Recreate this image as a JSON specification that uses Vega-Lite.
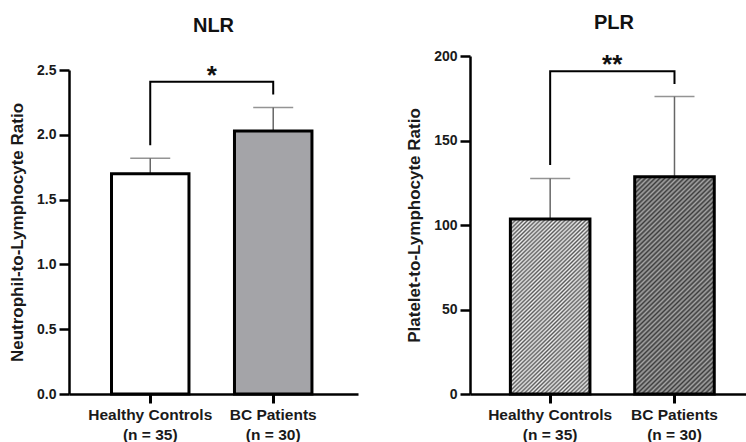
{
  "$schema": "https://vega.github.io/schema/vega-lite/v6.json",
  "padding": {"left": 8, "top": 13, "right": 0, "bottom": 0},
  "background": "white",
  "spacing": 47,
  "datasets": {
    "nlr": [
      {"group": "Healthy Controls|(n = 35)", "mean": 1.70, "upper": 1.82},
      {"group": "BC Patients|(n = 30)", "mean": 2.03, "upper": 2.21}
    ],
    "nlr_br": [
      {"group": "Healthy Controls|(n = 35)", "v": 1.92, "o": 1},
      {"group": "Healthy Controls|(n = 35)", "v": 2.41, "o": 2},
      {"group": "BC Patients|(n = 30)", "v": 2.41, "o": 3},
      {"group": "BC Patients|(n = 30)", "v": 2.31, "o": 4}
    ],
    "nlr_sig": [
      {"group": "Healthy Controls|(n = 35)", "top": 2.41, "sig": "*"}
    ],
    "plr": [
      {"group": "Healthy Controls|(n = 35)", "mean": 103.5, "upper": 127.5},
      {"group": "BC Patients|(n = 30)", "mean": 128.5, "upper": 176}
    ],
    "plr_br": [
      {"group": "Healthy Controls|(n = 35)", "v": 135.5, "o": 1},
      {"group": "Healthy Controls|(n = 35)", "v": 191, "o": 2},
      {"group": "BC Patients|(n = 30)", "v": 191, "o": 3},
      {"group": "BC Patients|(n = 30)", "v": 183.5, "o": 4}
    ],
    "plr_sig": [
      {"group": "Healthy Controls|(n = 35)", "top": 191, "sig": "**"}
    ]
  },
  "hconcat": [
    {
      "width": 289,
      "height": 338,
      "title": {"text": "NLR", "frame": "group", "offset": 20},
      "encoding": {
        "x": {
          "field": "group", "type": "nominal", "sort": null,
          "scale": {"domain": ["Healthy Controls|(n = 35)", "BC Patients|(n = 30)"], "paddingInner": 0.37, "paddingOuter": 0.36, "align": 0.48},
          "axis": {"title": null, "labelExpr": "split(datum.label, '|')"}
        }
      },
      "layer": [
        {
          "data": {"name": "nlr"},
          "mark": {"type": "rule", "color": "#666", "strokeWidth": 1.5},
          "encoding": {
            "y": {"field": "mean", "type": "quantitative", "title": "Neutrophil-to-Lymphocyte Ratio",
                  "scale": {"domain": [0, 2.5], "nice": false, "range": [338, 14]},
                  "axis": {"values": [0, 0.5, 1, 1.5, 2, 2.5], "format": ".1f"}},
            "y2": {"field": "upper"}
          }
        },
        {
          "data": {"name": "nlr"},
          "mark": {"type": "tick", "color": "#666", "thickness": 1.5, "size": 40},
          "encoding": {
            "y": {"field": "upper", "type": "quantitative", "title": "Neutrophil-to-Lymphocyte Ratio", "scale": {"domain": [0, 2.5], "nice": false, "range": [338, 14]}}
          }
        },
        {
          "data": {"name": "nlr"},
          "mark": {"type": "bar", "stroke": "#000", "strokeWidth": 3},
          "encoding": {
            "y": {"field": "mean", "type": "quantitative", "title": "Neutrophil-to-Lymphocyte Ratio", "scale": {"domain": [0, 2.5], "nice": false, "range": [338, 14]}},
            "fill": {"field": "group", "type": "nominal", "scale": {"domain": ["Healthy Controls|(n = 35)", "BC Patients|(n = 30)"], "range": ["#ffffff", "#a4a4a8"]}, "legend": null}
          }
        },
        {
          "data": {"name": "nlr_br"},
          "mark": {"type": "line", "color": "#000", "strokeWidth": 2, "strokeJoin": "miter"},
          "encoding": {
            "y": {"field": "v", "type": "quantitative", "title": "Neutrophil-to-Lymphocyte Ratio", "scale": {"domain": [0, 2.5], "nice": false, "range": [338, 14]}},
            "order": {"field": "o", "type": "quantitative"}
          }
        },
        {
          "data": {"name": "nlr_sig"},
          "mark": {"type": "text", "dx": 61.5, "dy": 2, "align": "center", "baseline": "alphabetic", "fontSize": 26, "fontWeight": "bold", "color": "#111"},
          "encoding": {
            "y": {"field": "top", "type": "quantitative", "title": "Neutrophil-to-Lymphocyte Ratio", "scale": {"domain": [0, 2.5], "nice": false, "range": [338, 14]}},
            "text": {"field": "sig"}
          }
        }
      ]
    },
    {
      "width": 276,
      "height": 338,
      "title": {"text": "PLR", "frame": "group", "offset": 16, "dx": 6},
      "encoding": {
        "x": {
          "field": "group", "type": "nominal", "sort": null,
          "scale": {"domain": ["Healthy Controls|(n = 35)", "BC Patients|(n = 30)"], "paddingInner": 0.36, "paddingOuter": 0.29, "align": 0.56},
          "axis": {"title": null, "labelExpr": "split(datum.label, '|')"}
        }
      },
      "layer": [
        {
          "data": {"name": "plr"},
          "mark": {"type": "rule", "color": "#666", "strokeWidth": 1.5},
          "encoding": {
            "y": {"field": "mean", "type": "quantitative", "title": "Platelet-to-Lymphocyte Ratio",
                  "scale": {"domain": [0, 200], "nice": false},
                  "axis": {"values": [0, 50, 100, 150, 200]}},
            "y2": {"field": "upper"}
          }
        },
        {
          "data": {"name": "plr"},
          "mark": {"type": "tick", "color": "#666", "thickness": 1.5, "size": 40},
          "encoding": {
            "y": {"field": "upper", "type": "quantitative", "title": "Platelet-to-Lymphocyte Ratio", "scale": {"domain": [0, 200], "nice": false}}
          }
        },
        {
          "data": {"name": "plr"},
          "transform": [{"filter": "datum.group == 'Healthy Controls|(n = 35)'"}],
          "mark": {"type": "bar", "stroke": "#000", "strokeWidth": 3,
            "fill": {"gradient": "linear", "x1": 0, "y1": 0, "x2": 0.5345, "y2": 1.206, "stops": [
              {"offset": 0, "color": "#eee"}, {"offset": 0.008, "color": "#5a5a5a"}, {"offset": 0.016, "color": "#eee"}, {"offset": 0.024, "color": "#5a5a5a"}, {"offset": 0.032, "color": "#eee"}, {"offset": 0.04, "color": "#5a5a5a"}, {"offset": 0.048, "color": "#eee"}, {"offset": 0.056, "color": "#5a5a5a"}, {"offset": 0.064, "color": "#eee"}, {"offset": 0.072, "color": "#5a5a5a"},
              {"offset": 0.08, "color": "#eee"}, {"offset": 0.088, "color": "#5a5a5a"}, {"offset": 0.096, "color": "#eee"}, {"offset": 0.104, "color": "#5a5a5a"}, {"offset": 0.112, "color": "#eee"}, {"offset": 0.12, "color": "#5a5a5a"}, {"offset": 0.128, "color": "#eee"}, {"offset": 0.136, "color": "#5a5a5a"}, {"offset": 0.144, "color": "#eee"}, {"offset": 0.152, "color": "#5a5a5a"},
              {"offset": 0.16, "color": "#eee"}, {"offset": 0.168, "color": "#5a5a5a"}, {"offset": 0.176, "color": "#eee"}, {"offset": 0.184, "color": "#5a5a5a"}, {"offset": 0.192, "color": "#eee"}, {"offset": 0.2, "color": "#5a5a5a"}, {"offset": 0.208, "color": "#eee"}, {"offset": 0.216, "color": "#5a5a5a"}, {"offset": 0.224, "color": "#eee"}, {"offset": 0.232, "color": "#5a5a5a"},
              {"offset": 0.24, "color": "#eee"}, {"offset": 0.248, "color": "#5a5a5a"}, {"offset": 0.256, "color": "#eee"}, {"offset": 0.264, "color": "#5a5a5a"}, {"offset": 0.272, "color": "#eee"}, {"offset": 0.28, "color": "#5a5a5a"}, {"offset": 0.288, "color": "#eee"}, {"offset": 0.296, "color": "#5a5a5a"}, {"offset": 0.304, "color": "#eee"}, {"offset": 0.312, "color": "#5a5a5a"},
              {"offset": 0.32, "color": "#eee"}, {"offset": 0.328, "color": "#5a5a5a"}, {"offset": 0.336, "color": "#eee"}, {"offset": 0.344, "color": "#5a5a5a"}, {"offset": 0.352, "color": "#eee"}, {"offset": 0.36, "color": "#5a5a5a"}, {"offset": 0.368, "color": "#eee"}, {"offset": 0.376, "color": "#5a5a5a"}, {"offset": 0.384, "color": "#eee"}, {"offset": 0.392, "color": "#5a5a5a"},
              {"offset": 0.4, "color": "#eee"}, {"offset": 0.408, "color": "#5a5a5a"}, {"offset": 0.416, "color": "#eee"}, {"offset": 0.424, "color": "#5a5a5a"}, {"offset": 0.432, "color": "#eee"}, {"offset": 0.44, "color": "#5a5a5a"}, {"offset": 0.448, "color": "#eee"}, {"offset": 0.456, "color": "#5a5a5a"}, {"offset": 0.464, "color": "#eee"}, {"offset": 0.472, "color": "#5a5a5a"},
              {"offset": 0.48, "color": "#eee"}, {"offset": 0.488, "color": "#5a5a5a"}, {"offset": 0.496, "color": "#eee"}, {"offset": 0.504, "color": "#5a5a5a"}, {"offset": 0.512, "color": "#eee"}, {"offset": 0.52, "color": "#5a5a5a"}, {"offset": 0.528, "color": "#eee"}, {"offset": 0.536, "color": "#5a5a5a"}, {"offset": 0.544, "color": "#eee"}, {"offset": 0.552, "color": "#5a5a5a"},
              {"offset": 0.56, "color": "#eee"}, {"offset": 0.568, "color": "#5a5a5a"}, {"offset": 0.576, "color": "#eee"}, {"offset": 0.584, "color": "#5a5a5a"}, {"offset": 0.592, "color": "#eee"}, {"offset": 0.6, "color": "#5a5a5a"}, {"offset": 0.608, "color": "#eee"}, {"offset": 0.616, "color": "#5a5a5a"}, {"offset": 0.624, "color": "#eee"}, {"offset": 0.632, "color": "#5a5a5a"},
              {"offset": 0.64, "color": "#eee"}, {"offset": 0.648, "color": "#5a5a5a"}, {"offset": 0.656, "color": "#eee"}, {"offset": 0.664, "color": "#5a5a5a"}, {"offset": 0.672, "color": "#eee"}, {"offset": 0.68, "color": "#5a5a5a"}, {"offset": 0.688, "color": "#eee"}, {"offset": 0.696, "color": "#5a5a5a"}, {"offset": 0.704, "color": "#eee"}, {"offset": 0.712, "color": "#5a5a5a"},
              {"offset": 0.72, "color": "#eee"}, {"offset": 0.728, "color": "#5a5a5a"}, {"offset": 0.736, "color": "#eee"}, {"offset": 0.744, "color": "#5a5a5a"}, {"offset": 0.752, "color": "#eee"}, {"offset": 0.76, "color": "#5a5a5a"}, {"offset": 0.768, "color": "#eee"}, {"offset": 0.776, "color": "#5a5a5a"}, {"offset": 0.784, "color": "#eee"}, {"offset": 0.792, "color": "#5a5a5a"},
              {"offset": 0.8, "color": "#eee"}, {"offset": 0.808, "color": "#5a5a5a"}, {"offset": 0.816, "color": "#eee"}, {"offset": 0.824, "color": "#5a5a5a"}, {"offset": 0.832, "color": "#eee"}, {"offset": 0.84, "color": "#5a5a5a"}, {"offset": 0.848, "color": "#eee"}, {"offset": 0.856, "color": "#5a5a5a"}, {"offset": 0.864, "color": "#eee"}, {"offset": 0.872, "color": "#5a5a5a"},
              {"offset": 0.88, "color": "#eee"}, {"offset": 0.888, "color": "#5a5a5a"}, {"offset": 0.896, "color": "#eee"}, {"offset": 0.904, "color": "#5a5a5a"}, {"offset": 0.912, "color": "#eee"}, {"offset": 0.92, "color": "#5a5a5a"}, {"offset": 0.928, "color": "#eee"}, {"offset": 0.936, "color": "#5a5a5a"}, {"offset": 0.944, "color": "#eee"}, {"offset": 0.952, "color": "#5a5a5a"},
              {"offset": 0.96, "color": "#eee"}, {"offset": 0.968, "color": "#5a5a5a"}, {"offset": 0.976, "color": "#eee"}, {"offset": 0.984, "color": "#5a5a5a"}, {"offset": 0.992, "color": "#eee"}, {"offset": 1, "color": "#5a5a5a"}
            ]}
          },
          "encoding": {
            "y": {"field": "mean", "type": "quantitative", "title": "Platelet-to-Lymphocyte Ratio", "scale": {"domain": [0, 200], "nice": false}}
          }
        },
        {
          "data": {"name": "plr"},
          "transform": [{"filter": "datum.group == 'BC Patients|(n = 30)'"}],
          "mark": {"type": "bar", "stroke": "#000", "strokeWidth": 3,
            "fill": {"gradient": "linear", "x1": 0, "y1": 0, "x2": 0.4294, "y2": 1.2036, "stops": [
              {"offset": 0, "color": "#a6a6a6"}, {"offset": 0.008, "color": "#3c3c3c"}, {"offset": 0.016, "color": "#a6a6a6"}, {"offset": 0.024, "color": "#3c3c3c"}, {"offset": 0.032, "color": "#a6a6a6"}, {"offset": 0.04, "color": "#3c3c3c"}, {"offset": 0.048, "color": "#a6a6a6"}, {"offset": 0.056, "color": "#3c3c3c"}, {"offset": 0.064, "color": "#a6a6a6"}, {"offset": 0.072, "color": "#3c3c3c"},
              {"offset": 0.08, "color": "#a6a6a6"}, {"offset": 0.088, "color": "#3c3c3c"}, {"offset": 0.096, "color": "#a6a6a6"}, {"offset": 0.104, "color": "#3c3c3c"}, {"offset": 0.112, "color": "#a6a6a6"}, {"offset": 0.12, "color": "#3c3c3c"}, {"offset": 0.128, "color": "#a6a6a6"}, {"offset": 0.136, "color": "#3c3c3c"}, {"offset": 0.144, "color": "#a6a6a6"}, {"offset": 0.152, "color": "#3c3c3c"},
              {"offset": 0.16, "color": "#a6a6a6"}, {"offset": 0.168, "color": "#3c3c3c"}, {"offset": 0.176, "color": "#a6a6a6"}, {"offset": 0.184, "color": "#3c3c3c"}, {"offset": 0.192, "color": "#a6a6a6"}, {"offset": 0.2, "color": "#3c3c3c"}, {"offset": 0.208, "color": "#a6a6a6"}, {"offset": 0.216, "color": "#3c3c3c"}, {"offset": 0.224, "color": "#a6a6a6"}, {"offset": 0.232, "color": "#3c3c3c"},
              {"offset": 0.24, "color": "#a6a6a6"}, {"offset": 0.248, "color": "#3c3c3c"}, {"offset": 0.256, "color": "#a6a6a6"}, {"offset": 0.264, "color": "#3c3c3c"}, {"offset": 0.272, "color": "#a6a6a6"}, {"offset": 0.28, "color": "#3c3c3c"}, {"offset": 0.288, "color": "#a6a6a6"}, {"offset": 0.296, "color": "#3c3c3c"}, {"offset": 0.304, "color": "#a6a6a6"}, {"offset": 0.312, "color": "#3c3c3c"},
              {"offset": 0.32, "color": "#a6a6a6"}, {"offset": 0.328, "color": "#3c3c3c"}, {"offset": 0.336, "color": "#a6a6a6"}, {"offset": 0.344, "color": "#3c3c3c"}, {"offset": 0.352, "color": "#a6a6a6"}, {"offset": 0.36, "color": "#3c3c3c"}, {"offset": 0.368, "color": "#a6a6a6"}, {"offset": 0.376, "color": "#3c3c3c"}, {"offset": 0.384, "color": "#a6a6a6"}, {"offset": 0.392, "color": "#3c3c3c"},
              {"offset": 0.4, "color": "#a6a6a6"}, {"offset": 0.408, "color": "#3c3c3c"}, {"offset": 0.416, "color": "#a6a6a6"}, {"offset": 0.424, "color": "#3c3c3c"}, {"offset": 0.432, "color": "#a6a6a6"}, {"offset": 0.44, "color": "#3c3c3c"}, {"offset": 0.448, "color": "#a6a6a6"}, {"offset": 0.456, "color": "#3c3c3c"}, {"offset": 0.464, "color": "#a6a6a6"}, {"offset": 0.472, "color": "#3c3c3c"},
              {"offset": 0.48, "color": "#a6a6a6"}, {"offset": 0.488, "color": "#3c3c3c"}, {"offset": 0.496, "color": "#a6a6a6"}, {"offset": 0.504, "color": "#3c3c3c"}, {"offset": 0.512, "color": "#a6a6a6"}, {"offset": 0.52, "color": "#3c3c3c"}, {"offset": 0.528, "color": "#a6a6a6"}, {"offset": 0.536, "color": "#3c3c3c"}, {"offset": 0.544, "color": "#a6a6a6"}, {"offset": 0.552, "color": "#3c3c3c"},
              {"offset": 0.56, "color": "#a6a6a6"}, {"offset": 0.568, "color": "#3c3c3c"}, {"offset": 0.576, "color": "#a6a6a6"}, {"offset": 0.584, "color": "#3c3c3c"}, {"offset": 0.592, "color": "#a6a6a6"}, {"offset": 0.6, "color": "#3c3c3c"}, {"offset": 0.608, "color": "#a6a6a6"}, {"offset": 0.616, "color": "#3c3c3c"}, {"offset": 0.624, "color": "#a6a6a6"}, {"offset": 0.632, "color": "#3c3c3c"},
              {"offset": 0.64, "color": "#a6a6a6"}, {"offset": 0.648, "color": "#3c3c3c"}, {"offset": 0.656, "color": "#a6a6a6"}, {"offset": 0.664, "color": "#3c3c3c"}, {"offset": 0.672, "color": "#a6a6a6"}, {"offset": 0.68, "color": "#3c3c3c"}, {"offset": 0.688, "color": "#a6a6a6"}, {"offset": 0.696, "color": "#3c3c3c"}, {"offset": 0.704, "color": "#a6a6a6"}, {"offset": 0.712, "color": "#3c3c3c"},
              {"offset": 0.72, "color": "#a6a6a6"}, {"offset": 0.728, "color": "#3c3c3c"}, {"offset": 0.736, "color": "#a6a6a6"}, {"offset": 0.744, "color": "#3c3c3c"}, {"offset": 0.752, "color": "#a6a6a6"}, {"offset": 0.76, "color": "#3c3c3c"}, {"offset": 0.768, "color": "#a6a6a6"}, {"offset": 0.776, "color": "#3c3c3c"}, {"offset": 0.784, "color": "#a6a6a6"}, {"offset": 0.792, "color": "#3c3c3c"},
              {"offset": 0.8, "color": "#a6a6a6"}, {"offset": 0.808, "color": "#3c3c3c"}, {"offset": 0.816, "color": "#a6a6a6"}, {"offset": 0.824, "color": "#3c3c3c"}, {"offset": 0.832, "color": "#a6a6a6"}, {"offset": 0.84, "color": "#3c3c3c"}, {"offset": 0.848, "color": "#a6a6a6"}, {"offset": 0.856, "color": "#3c3c3c"}, {"offset": 0.864, "color": "#a6a6a6"}, {"offset": 0.872, "color": "#3c3c3c"},
              {"offset": 0.88, "color": "#a6a6a6"}, {"offset": 0.888, "color": "#3c3c3c"}, {"offset": 0.896, "color": "#a6a6a6"}, {"offset": 0.904, "color": "#3c3c3c"}, {"offset": 0.912, "color": "#a6a6a6"}, {"offset": 0.92, "color": "#3c3c3c"}, {"offset": 0.928, "color": "#a6a6a6"}, {"offset": 0.936, "color": "#3c3c3c"}, {"offset": 0.944, "color": "#a6a6a6"}, {"offset": 0.952, "color": "#3c3c3c"},
              {"offset": 0.96, "color": "#a6a6a6"}, {"offset": 0.968, "color": "#3c3c3c"}, {"offset": 0.976, "color": "#a6a6a6"}, {"offset": 0.984, "color": "#3c3c3c"}, {"offset": 0.992, "color": "#a6a6a6"}, {"offset": 1, "color": "#3c3c3c"}
            ]}
          },
          "encoding": {
            "y": {"field": "mean", "type": "quantitative", "title": "Platelet-to-Lymphocyte Ratio", "scale": {"domain": [0, 200], "nice": false}}
          }
        },
        {
          "data": {"name": "plr_br"},
          "mark": {"type": "line", "color": "#000", "strokeWidth": 2, "strokeJoin": "miter"},
          "encoding": {
            "y": {"field": "v", "type": "quantitative", "title": "Platelet-to-Lymphocyte Ratio", "scale": {"domain": [0, 200], "nice": false}},
            "order": {"field": "o", "type": "quantitative"}
          }
        },
        {
          "data": {"name": "plr_sig"},
          "mark": {"type": "text", "dx": 62, "dy": 2, "align": "center", "baseline": "alphabetic", "fontSize": 26, "fontWeight": "bold", "color": "#111"},
          "encoding": {
            "y": {"field": "top", "type": "quantitative", "title": "Platelet-to-Lymphocyte Ratio", "scale": {"domain": [0, 200], "nice": false}},
            "text": {"field": "sig"}
          }
        }
      ]
    }
  ],
  "config": {
    "font": "Liberation Sans",
    "view": {"stroke": null},
    "title": {"fontSize": 20, "fontWeight": "bold", "color": "#111", "baseline": "alphabetic", "anchor": "middle"},
    "axis": {
      "domainColor": "#000", "domainWidth": 2.5, "tickColor": "#000", "tickWidth": 2.5, "tickSize": 10,
      "labelFont": "Liberation Sans", "labelFontWeight": "bold", "labelColor": "#1a1a1a", "labelFontSize": 14, "labelPadding": 3,
      "titleFont": "Liberation Sans", "titleFontSize": 17, "titleFontWeight": "bold", "titleColor": "#1a1a1a", "titlePadding": 10,
      "grid": false
    },
    "axisX": {"labelFontSize": 15.5, "labelAngle": 0, "tickSize": 9, "tickWidth": 3, "labelPadding": 4, "labelLineHeight": 20}
  }
}
